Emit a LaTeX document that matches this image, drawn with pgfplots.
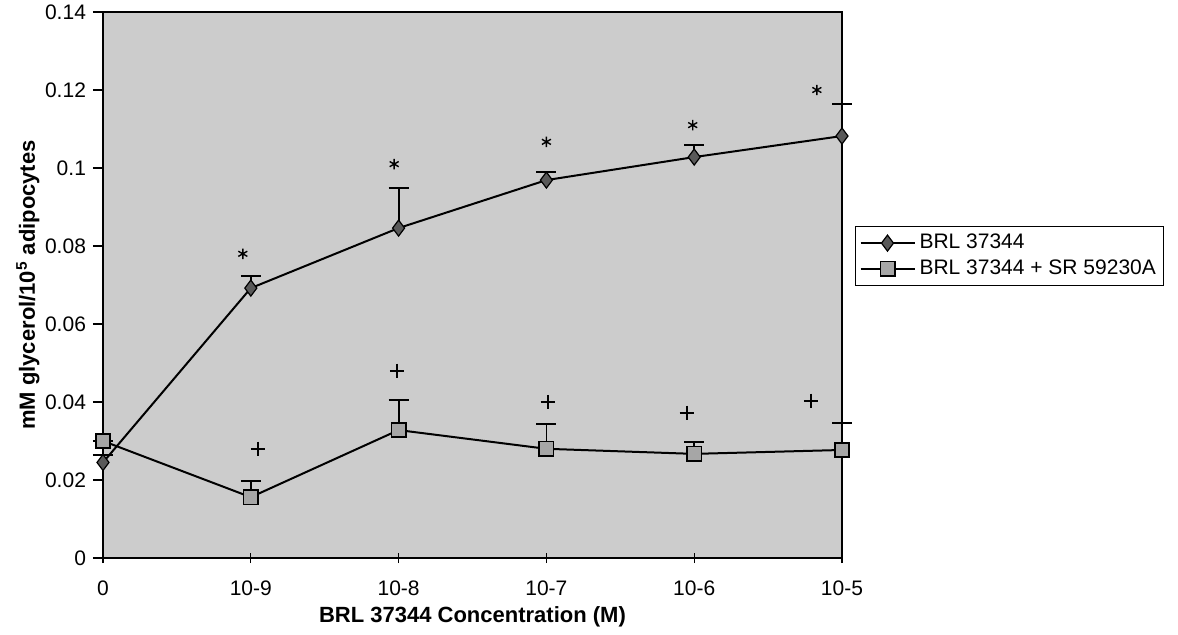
\documentclass[border=0pt]{standalone}
\usepackage{fontspec}
\setmainfont{Liberation Sans}
\usepackage{pgfplots}
\pgfplotsset{compat=1.18}
\begin{document}
\begin{tikzpicture}[x=1pt,y=1pt]
\path[use as bounding box] (-51.5,-38) rectangle (537.5,279);
\begin{axis}[at={(0,0)}, anchor=south west, scale only axis,
  width=369.5pt, height=273pt,
  xmin=0, xmax=5, ymin=0, ymax=0.14,
  clip=false,
  tick pos=left,
  xtick={0,1,2,3,4,5},
  xticklabels={0,10-9,10-8,10-7,10-6,10-5},
  ytick={0,0.02,0.04,0.06,0.08,0.1,0.12,0.14},
  yticklabels={0,0.02,0.04,0.06,0.08,0.1,0.12,0.14},
  scaled y ticks=false,
  tick label style={font=\fontsize{10.5}{12}\selectfont},
  xticklabel style={anchor=center, yshift=-12.5pt},
  ytick align=outside, xtick align=center,
  major tick length=5pt,
  tick style={black, line width=0.6pt},
  axis line style={line width=1pt},
  axis background/.style={fill=black!20},
  xlabel={\textbf{BRL 37344 Concentration (M)}},
  ylabel={\textbf{mM glycerol/10\textsuperscript{5} adipocytes}},
  label style={font=\fontsize{11}{12}\selectfont},
  xlabel style={at={(axis description cs:0.5,-0.108)}, anchor=center},
  ylabel style={at={(axis description cs:-0.1015,0.5)}, anchor=center},
  legend style={at={(1.0176,0.498)}, anchor=south west, draw=black, line width=0.5pt,
    font=\fontsize{10.5}{12}\selectfont, cells={anchor=west}, inner sep=2pt, row sep=0pt},
  legend cell align=left,
  legend image code/.code={
    \draw[mark repeat=2,mark phase=2] plot coordinates {(0pt,0pt) (13.5pt,0pt) (27pt,0pt)};
  },
]
\addplot[black, line width=1pt, mark=diamond*, mark size=4pt,
  mark options={fill=black!65, draw=black, line width=0.6pt},
  error bars/.cd, y dir=plus, y explicit,
  error bar style={black, line width=0.9pt},
  error mark options={rotate=90, mark size=5pt, line width=0.9pt}]
  coordinates {
  (0,0.0245) +- (0,0.002)
  (1,0.0692) +- (0,0.0031)
  (2,0.0846) +- (0,0.0103)
  (3,0.0969) +- (0,0.0021)
  (4,0.1028) +- (0,0.0032)
  (5,0.1082) +- (0,0.0082)
  };
\addlegendentry{BRL 37344}
\addplot[black, line width=1pt, mark=square*, mark size=3.6pt,
  mark options={fill=black!35, draw=black, line width=0.8pt},
  error bars/.cd, y dir=plus, y explicit,
  error bar style={black, line width=0.9pt},
  error mark options={rotate=90, mark size=5pt, line width=0.9pt}]
  coordinates {
  (0,0.0300) +- (0,0)
  (1,0.0156) +- (0,0.0041)
  (2,0.0328) +- (0,0.0077)
  (3,0.0280) +- (0,0.0064)
  (4,0.0267) +- (0,0.0030)
  (5,0.0277) +- (0,0.0069)
  };
\addlegendentry{BRL 37344 + SR 59230A}
\addplot[only marks, mark=asterisk, mark size=2.6pt, black, line width=0.7pt, forget plot]
  coordinates {(0.946,0.078) (1.97,0.101) (3.0,0.1067) (3.99,0.111) (4.83,0.120)};
\addplot[only marks, mark=+, mark size=3.6pt, black, line width=0.9pt, forget plot]
  coordinates {(1.05,0.028) (1.99,0.048) (3.01,0.040) (3.95,0.0372) (4.79,0.0403)};
\end{axis}
\end{tikzpicture}
\end{document}
